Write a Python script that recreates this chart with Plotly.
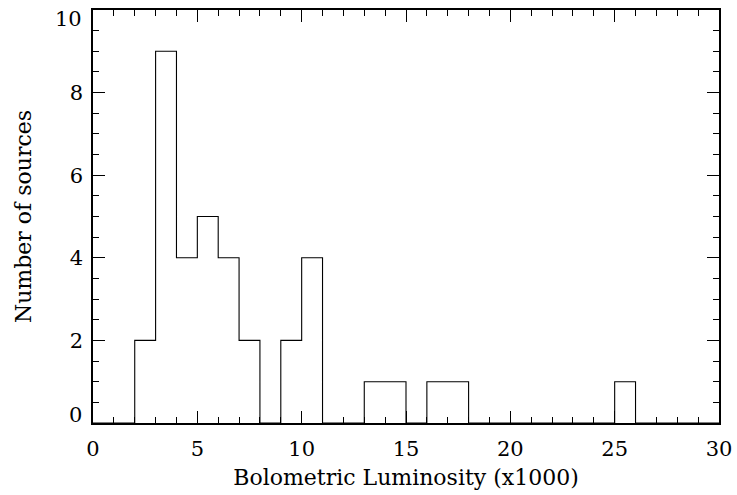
import plotly.graph_objects as go

bin_edges = list(range(0, 31))
counts = [0, 0, 2, 9, 4, 5, 4, 2, 0, 2, 4, 0, 0, 1, 1, 0, 1, 1, 0, 0,
          0, 0, 0, 0, 0, 1, 0, 0, 0, 0]
x_ticks = [0, 5, 10, 15, 20, 25, 30]
y_ticks = [0, 2, 4, 6, 8, 10]

xs = bin_edges
ys = counts + [counts[-1]]

font = "DejaVu Serif"
fig = go.Figure()
fig.add_trace(go.Scatter(x=xs, y=ys, mode="lines", line_shape="hv",
                         line=dict(color="black", width=1.1), showlegend=False))

ymin, ymax = min(y_ticks), max(y_ticks)
# end labels are nudged inside the frame (as in the original); drawn as annotations
y_text = ["" if v in (ymin, ymax) else str(v) for v in y_ticks]

axis_common = dict(showgrid=False, zeroline=False, showline=True, linecolor="black",
                   linewidth=1.5, mirror="ticks", ticks="inside", ticklen=12,
                   tickwidth=1, tickcolor="black", automargin=False,
                   ticklabeloverflow="allow",
                   tickfont=dict(family=font, size=21, color="black"))
fig.update_xaxes(range=[0, 30], tickvals=x_ticks, ticktext=[str(v) for v in x_ticks],
                 minor=dict(dtick=1, tick0=0, ticks="inside", ticklen=6, tickcolor="black"),
                 ticklabelstandoff=6,
                 title=dict(text="Bolometric Luminosity (x1000)",
                            font=dict(family=font, size=22, color="black"), standoff=10),
                 **axis_common)
fig.update_yaxes(range=[ymin, ymax], tickvals=y_ticks, ticktext=y_text,
                 minor=dict(dtick=0.5, tick0=0, ticks="inside", ticklen=6, tickcolor="black"),
                 ticklabelstandoff=4,
                 title=dict(text="Number of sources",
                            font=dict(family=font, size=22, color="black"), standoff=32),
                 **axis_common)
for v, shift in ((ymax, -9), (ymin, 8)):
    fig.add_annotation(x=0, xref="paper", y=v, yref="y", text=str(v), showarrow=False,
                       xanchor="right", yanchor="middle", xshift=-9, yshift=shift,
                       font=dict(family=font, size=21, color="black"))
fig.update_layout(width=737, height=495, margin=dict(l=93, r=18, t=10, b=72),
                  plot_bgcolor="white", paper_bgcolor="white")
fig.write_html("out.html")
